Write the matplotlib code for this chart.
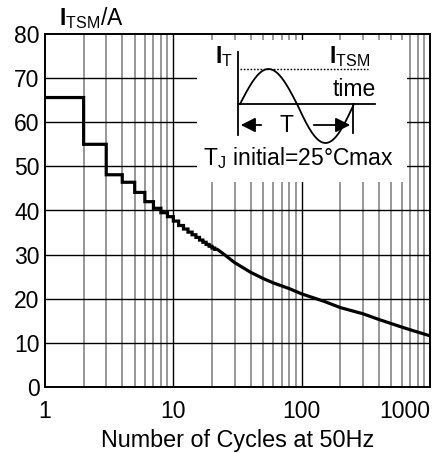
import numpy as np
import matplotlib
matplotlib.use("Agg")
import matplotlib.pyplot as plt

plt.rcParams['font.family'] = ['Liberation Sans', 'DejaVu Sans']
plt.rcParams['mathtext.fontset'] = 'custom'
plt.rcParams['mathtext.rm'] = 'Liberation Sans'
plt.rcParams['mathtext.bf'] = 'Liberation Sans:bold'
plt.rcParams['mathtext.it'] = 'Liberation Sans:italic'

# surge current per number of cycles (stepped part, one level per cycle)
step_n = [1, 2, 3, 4, 5, 6, 7, 8, 9, 10, 11, 12, 13, 14, 15, 16, 17, 18, 19, 20, 21]
step_v = [65.6, 55.0, 48.1, 46.4, 44.1, 42.0, 40.5, 39.5, 38.6, 37.6, 36.6,
          35.8, 35.1, 34.5, 33.9, 33.3, 32.8, 32.3, 31.9, 31.5, 31.2]
# smooth part
curve_n = [22, 25, 30, 40, 50, 60, 80, 100, 150, 200, 300, 400, 600, 750, 1000]
curve_v = [31.2, 30.0, 28.2, 26.0, 24.6, 23.6, 22.3, 21.1, 19.4, 18.0, 16.6,
           15.3, 13.6, 12.7, 11.6]

yticks = [0, 10, 20, 30, 40, 50, 60, 70, 80]
xticks = [1, 10, 100, 1000]
xticklabels = ['1', '10', '100', '1000']

# build one path: steps then curve
xs = []
ys = []
for i in range(len(step_n)):
    xs += [step_n[i], step_n[i] + 1]
    ys += [step_v[i], step_v[i]]
xs += curve_n[1:]
ys += curve_v[1:]

fig = plt.figure(figsize=(4.4, 4.53), dpi=100)
ax = fig.add_axes([45/440, 1-387/453, 385/440, 353/453])
ax.set_xscale('log')
ax.set_xlim(1, 1000)
ax.set_ylim(0, 80)

# grid
for dec in [1, 10, 100]:
    for k in range(2, 10):
        ax.axvline(dec*k, color='#7a7a7a', lw=1.1, zorder=1)
for d in [10, 100]:
    ax.axvline(d, color='black', lw=1.0, zorder=1)
for v in yticks[1:-1]:
    ax.axhline(v, color='black', lw=1.0, zorder=1)

ax.plot(xs, ys, color='black', lw=2.3, solid_joinstyle='miter', zorder=5)

ax.set_yticks(yticks)
ax.set_xticks(xticks)
ax.set_xticklabels(xticklabels)
ax.minorticks_off()
ax.tick_params(length=0, labelsize=16.5, pad=4)
ax.tick_params(axis='x', pad=9)
labs = ax.get_xticklabels()
labs[-1].set_ha('right')
labs[-1].set_x(1000)
for s in ax.spines.values():
    s.set_linewidth(1.4)
ax.set_xlabel('Number of Cycles at 50Hz', fontsize=16.8, labelpad=5)
fig.text(59/440, 1-18/453, r'$\mathbf{I}_{\mathrm{TSM}}$/A', fontsize=16.5, va='center', ha='left')

# inset sketch, drawn in pixel-like coords
ins = fig.add_axes([197/440, 1-182/453, 210/440, 142/453])
ins.set_xlim(197, 407)
ins.set_ylim(182, 40)
ins.axis('off')
ins.set_zorder(3)
ins.add_patch(plt.Rectangle((197, 40), 210, 142, color='white', zorder=0))

t = np.linspace(0, 1, 200)
sine_y = np.where(t < 0.5, 104 - 35*np.sin(2*np.pi*t), 104 - 39*np.sin(2*np.pi*t))
ins.plot(240 + 114*t, sine_y, color='black', lw=1.3)
ins.plot([237.7, 237.7], [52, 135], color='black', lw=1.3)
ins.plot([237.7, 375], [104, 104], color='black', lw=1.3)
ins.plot([353, 353], [104, 133], color='black', lw=1.3)
ins.plot([240, 368], [69, 69], color='black', lw=1.0, ls=(0, (1.2, 1.2)))
ins.annotate('', xy=(238, 125), xytext=(264, 125),
             arrowprops=dict(arrowstyle='-|>', color='black', lw=1.3, mutation_scale=22))
ins.annotate('', xy=(353, 125), xytext=(311, 125),
             arrowprops=dict(arrowstyle='-|>', color='black', lw=1.3, mutation_scale=22))
ins.text(286, 126, 'T', fontsize=16.5, ha='center', va='center')
ins.text(224, 57, r'$\mathbf{I}_{\mathrm{T}}$', fontsize=16.5, ha='center', va='center')
ins.text(329, 57, r'$\mathbf{I}_{\mathrm{TSM}}$', fontsize=16.5, ha='left', va='center')
ins.text(354, 89, 'time', fontsize=16.5, ha='center', va='center')
ins.text(298, 158, r'T$_{\mathrm{J}}$ initial=25°Cmax', fontsize=16.5, ha='center', va='center')

fig.savefig('out.png', dpi=100)
